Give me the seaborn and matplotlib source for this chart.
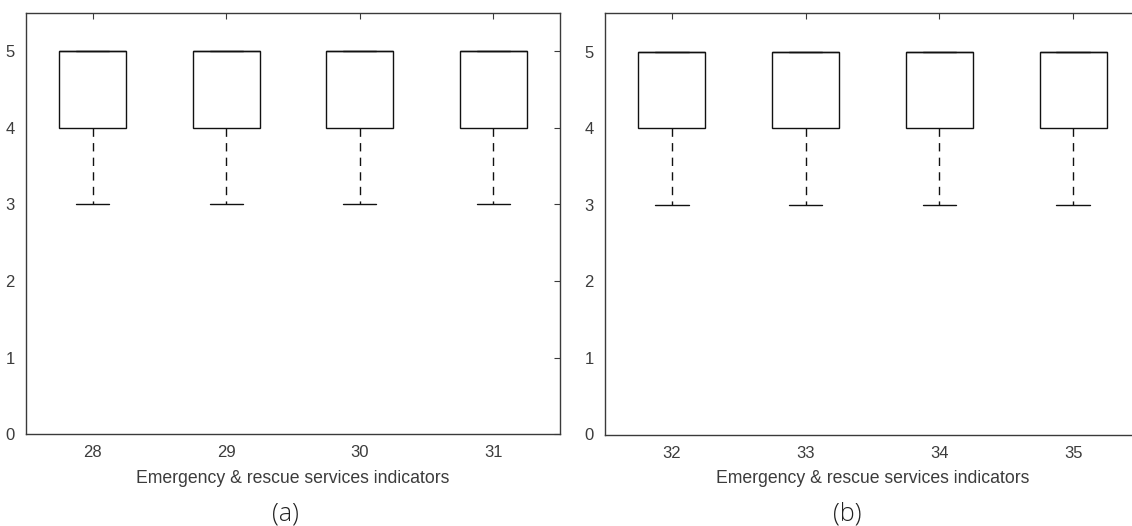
import matplotlib
matplotlib.use("Agg")
import matplotlib.pyplot as plt
import seaborn as sns
import pandas as pd

# Likert responses (1-5) per indicator, read from the box summaries
indicators_a = ["28", "29", "30", "31"]
indicators_b = ["32", "33", "34", "35"]
resp_28 = [3, 4, 4, 5, 5, 5, 5, 5]
resp_29 = [3, 4, 4, 5, 5, 5, 5, 5]
resp_30 = [3, 4, 4, 5, 5, 5, 5, 5]
resp_31 = [3, 4, 4, 5, 5, 5, 5, 5]
resp_32 = [3, 4, 4, 5, 5, 5, 5, 5]
resp_33 = [3, 4, 4, 5, 5, 5, 5, 5]
resp_34 = [3, 4, 4, 5, 5, 5, 5, 5]
resp_35 = [3, 4, 4, 5, 5, 5, 5, 5]
y_ticks = [0, 1, 2, 3, 4, 5]
x_label = "Emergency & rescue services indicators"
panel_labels = ["(a)", "(b)"]


def long_df(cats, series):
    rows = []
    for c, vals in zip(cats, series):
        for v in vals:
            rows.append((c, v))
    return pd.DataFrame(rows, columns=["indicator", "score"])


df_a = long_df(indicators_a, [resp_28, resp_29, resp_30, resp_31])
df_b = long_df(indicators_b, [resp_32, resp_33, resp_34, resp_35])

sns.set_theme(style="white")
plt.rcParams["font.family"] = ["Liberation Sans", "DejaVu Sans"]

W, H = 1132, 526
fig = plt.figure(figsize=(W / 100, H / 100), dpi=100)
fig.patch.set_facecolor("white")

def frac_axes(left, right, top, bottom):
    return fig.add_axes([left / W, 1 - bottom / H, (right - left) / W, (bottom - top) / H])

ax_a = frac_axes(26, 560, 12.7, 434.3)
ax_b = frac_axes(605, 1140, 13.2, 434.5)

spine_c = "#3a3a3a"
text_c = "#3c3c3c"

for ax, df, cats in [(ax_a, df_a, indicators_a), (ax_b, df_b, indicators_b)]:
    sns.boxplot(
        data=df, x="indicator", y="score", order=cats, ax=ax,
        width=0.5, color="white", linecolor="#111111", linewidth=1.0,
        whis=1.5, fliersize=0,
        whiskerprops={"linestyle": (0, (6, 4.5))},
        medianprops={"color": "#111111"},
    )
    ax.set_xlim(-0.5, len(cats) - 0.5)
    ax.set_ylim(0, 5.5)
    ax.set_yticks(y_ticks)
    ax.set_yticklabels([str(t) for t in y_ticks])
    ax.set_ylabel("")
    ax.set_xlabel(x_label, fontsize=12.7, color=text_c, labelpad=7)
    ax.tick_params(direction="in", top=True, right=True, length=4, width=0.8,
                   colors=spine_c, labelcolor=text_c, labelsize=12, pad=8)
    for s in ax.spines.values():
        s.set_visible(True)
        s.set_color(spine_c)
        s.set_linewidth(1.0)
    ax.set_facecolor("white")

ax_b.spines["right"].set_visible(False)

fig.text(285 / W, 1 - 514 / H, panel_labels[0], ha="center", va="center",
         fontsize=18, color="#222222", family=["Open Sans", "DejaVu Sans"], fontweight="light")
fig.text(847 / W, 1 - 514 / H, panel_labels[1], ha="center", va="center",
         fontsize=18, color="#222222", family=["Open Sans", "DejaVu Sans"], fontweight="light")

fig.savefig("out.png", dpi=100, facecolor="white")
